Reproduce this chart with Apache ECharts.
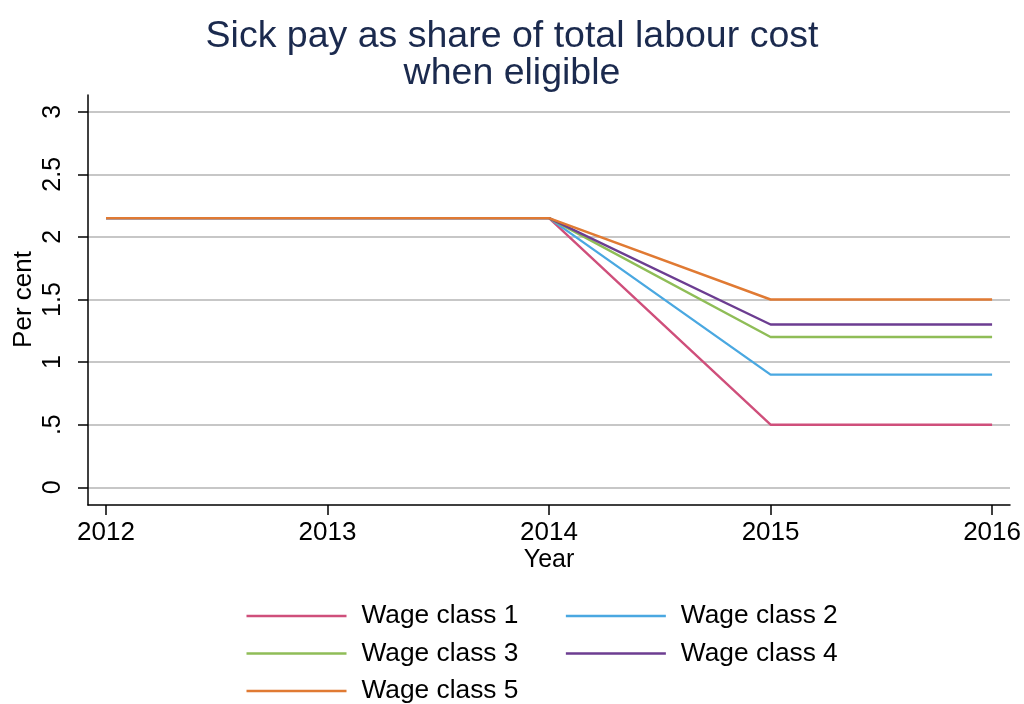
<!DOCTYPE html>
<html>
<head>
<meta charset="utf-8">
<script src="https://cdn.jsdelivr.net/npm/echarts@6/dist/echarts.min.js"></script>
<style>
  html, body { margin: 0; padding: 0; background: #fff; }
  #chart { width: 1024px; height: 704px; }
</style>
</head>
<body>
<div id="chart"></div>
<script>
// Sick pay as a share of total labour cost, by wage class
const years = [2012, 2013, 2014, 2015, 2016];
const wageClass1 = [2.15, 2.15, 2.15, 0.5, 0.5];
const wageClass2 = [2.15, 2.15, 2.15, 0.9, 0.9];
const wageClass3 = [2.15, 2.15, 2.15, 1.2, 1.2];
const wageClass4 = [2.15, 2.15, 2.15, 1.3, 1.3];
const wageClass5 = [2.15, 2.15, 2.15, 1.5, 1.5];
const seriesNames = ['Wage class 1', 'Wage class 2', 'Wage class 3', 'Wage class 4', 'Wage class 5'];
const yTicks = [0, 0.5, 1, 1.5, 2, 2.5, 3];

const colors = ['#cf4f7b', '#4aa8e1', '#8fbd57', '#6c3d91', '#e07a33'];
const FONT = 'Liberation Sans, Arial, sans-serif';

// plot frame and value range (the frame is a little taller than 0..3)
const FRAME = { left: 88, right: 14, top: 95, bottom: 199 };
const PLOT = { top: 111.7, bottom: 216.7 };
const pxPerUnit = (704 - PLOT.bottom - PLOT.top) / 3;
const frameMin = -(PLOT.bottom - FRAME.bottom) / pxPerUnit;
const frameMax = 3 + (PLOT.top - FRAME.top) / pxPerUnit;

function yLabel(v) {
  if (v === 0.5) return '.5';
  return String(v);
}

const allSeries = [wageClass1, wageClass2, wageClass3, wageClass4, wageClass5];

const series = allSeries.map((vals, i) => ({
  name: seriesNames[i],
  type: 'line',
  xAxisIndex: 2,
  yAxisIndex: 2,
  data: vals.map((v, j) => [years[j], v]),
  showSymbol: false,
  symbol: 'none',
  lineStyle: { color: colors[i], width: 2.4 },
  itemStyle: { color: colors[i] },
  z: 5 + i
}));

const legendCommon = {
  left: 241.5,
  orient: 'horizontal',
  itemWidth: 100,
  itemHeight: 14,
  itemGap: 47.5,
  icon: 'path://M0,0 L100,0 L100,2.6 L0,2.6 Z',
  textStyle: { fontFamily: FONT, fontSize: 26.3, color: '#000', padding: [0, 0, 0, 10] },
  selectedMode: false
};

const option = {
  animation: false,
  backgroundColor: '#fff',
  title: {
    text: 'Sick pay as share of total labour cost\nwhen eligible',
    left: 'center',
    top: 13,
    textStyle: { fontFamily: FONT, fontSize: 37.5, fontWeight: 'normal', color: '#1b2a4e', lineHeight: 37 }
  },
  legend: [
    Object.assign({}, legendCommon, { top: 598, data: [seriesNames[0], seriesNames[1]] }),
    Object.assign({}, legendCommon, { top: 635.5, data: [seriesNames[2], seriesNames[3]] }),
    Object.assign({}, legendCommon, { top: 673, data: [seriesNames[4]] })
  ],
  grid: [
    // frame: axis lines only
    { left: FRAME.left, right: FRAME.right, top: FRAME.top, bottom: FRAME.bottom },
    // horizontal gridlines and y ticks
    { left: FRAME.left, right: FRAME.right, top: PLOT.top, bottom: PLOT.bottom },
    // data area with x ticks
    { left: 106, right: 31, top: FRAME.top, bottom: FRAME.bottom }
  ],
  xAxis: [
    { gridIndex: 0, type: 'value', min: 0, max: 1,
      axisLine: { show: true, onZero: false, lineStyle: { color: '#000', width: 1.5 } },
      axisTick: { show: false }, axisLabel: { show: false }, splitLine: { show: false } },
    { gridIndex: 1, type: 'value', min: 0, max: 1, show: false },
    { gridIndex: 2, type: 'value', min: 2012, max: 2016, interval: 1,
      name: 'Year', nameLocation: 'middle', nameGap: 43, nameMoveOverlap: false,
      nameTextStyle: { fontFamily: FONT, fontSize: 25, color: '#000' },
      axisLine: { show: false, onZero: false },
      axisTick: { show: true, length: 10, lineStyle: { color: '#000', width: 1.5 } },
      axisLabel: { fontFamily: FONT, fontSize: 26, color: '#000', margin: 15,
        formatter: v => String(v) },
      splitLine: { show: false } }
  ],
  yAxis: [
    { gridIndex: 0, type: 'value', min: 0, max: 1,
      axisLine: { show: true, onZero: false, lineStyle: { color: '#000', width: 1.5 } },
      axisTick: { show: false }, axisLabel: { show: false }, splitLine: { show: false } },
    { gridIndex: 1, type: 'value', min: 0, max: 3, interval: 0.5,
      name: 'Per cent', nameLocation: 'middle', nameGap: 51, nameMoveOverlap: false,
      nameTextStyle: { fontFamily: FONT, fontSize: 26, color: '#000' },
      axisLine: { show: false, onZero: false },
      axisTick: { show: true, length: 10, lineStyle: { color: '#000', width: 1.5 } },
      axisLabel: { fontFamily: FONT, fontSize: 25, color: '#000', rotate: 90, margin: 22,
        formatter: v => (yTicks.indexOf(v) >= 0 ? yLabel(v) : '') },
      splitLine: { show: true, lineStyle: { color: '#b4b4b4', width: 1.5 } } },
    { gridIndex: 2, type: 'value', min: frameMin, max: frameMax, show: false }
  ],
  series: series
};

const chart = echarts.init(document.getElementById('chart'), null, { renderer: 'canvas' });
chart.setOption(option);
</script>
</body>
</html>
